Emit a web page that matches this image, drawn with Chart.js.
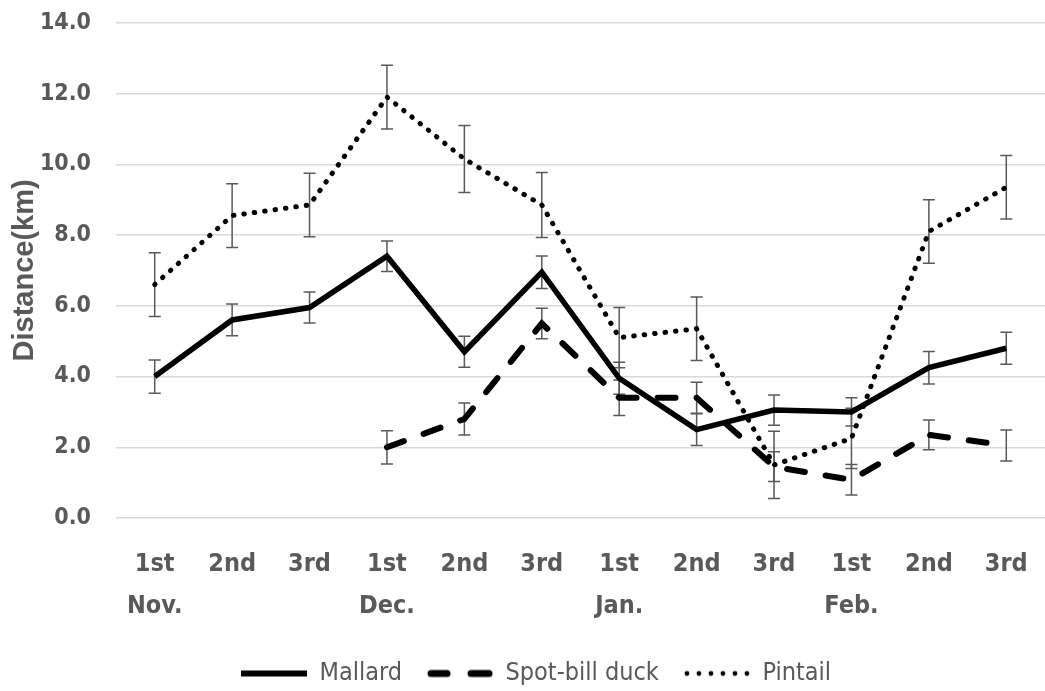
<!DOCTYPE html>
<html>
<head>
<meta charset="utf-8">
<script src="https://cdn.jsdelivr.net/npm/chart.js@4.4.1/dist/chart.umd.min.js"></script>
<style>
  html, body { margin: 0; padding: 0; background: #fff; }
  #wrap { width: 1045px; height: 691px; }
</style>
</head>
<body>
<div id="wrap"><canvas id="chart-line" width="1045" height="691"></canvas></div>
<script>
// periods (ten-day thirds of each month)
var periods = [['1st', 'Nov.'], '2nd', '3rd', ['1st', 'Dec.'], '2nd', '3rd',
               ['1st', 'Jan.'], '2nd', '3rd', ['1st', 'Feb.'], '2nd', '3rd'];

// mean distance (km) and error bar half-length
var mallard     = [4.0, 5.6, 5.95, 7.4, 4.7, 6.95, 3.95, 2.5, 3.05, 3.0, 4.25, 4.8];
var mallardErr  = [0.47, 0.45, 0.44, 0.43, 0.44, 0.46, 0.45, 0.45, 0.43, 0.4, 0.46, 0.45];
var spotbill    = [null, null, null, 2.0, 2.8, 5.5, 3.4, 3.4, 1.45, 1.08, 2.35, 2.05];
var spotbillErr = [null, null, null, 0.47, 0.45, 0.43, 0.5, 0.44, 0.42, 0.43, 0.42, 0.44];
var pintail     = [6.6, 8.55, 8.85, 11.9, 10.15, 8.85, 5.1, 5.35, 1.5, 2.25, 8.1, 9.35];
var pintailErr  = [0.9, 0.9, 0.9, 0.9, 0.95, 0.92, 0.85, 0.9, 0.95, 0.85, 0.9, 0.9];

var yTicks = [0, 2, 4, 6, 8, 10, 12, 14];

var grey = '#595959';
var narrow = "'DejaVu Sans Condensed', 'DejaVu Sans', sans-serif";

// small pictures of each line style for the legend
// (17px blank on the left widens the gap between legend entries)
function sample(kind) {
    var c = document.createElement('canvas');
    c.width = 83; c.height = 12;
    var g = c.getContext('2d');
    g.strokeStyle = '#000';
    g.fillStyle = '#000';
    g.translate(17, 0);
    if (kind == 'solid') {
        g.lineWidth = 6;
        g.beginPath(); g.moveTo(0, 6); g.lineTo(66, 6); g.stroke();
    } else if (kind == 'dash') {
        g.lineWidth = 7;
        g.lineCap = 'round';
        g.beginPath();
        g.moveTo(4, 6); g.lineTo(20, 6);
        g.moveTo(44, 6); g.lineTo(62, 6);
        g.stroke();
    } else {
        for (var i = 0; i < 6; i++) {
            g.beginPath(); g.arc(3 + i * 12, 6, 2.4, 0, Math.PI * 2); g.fill();
        }
    }
    return c;
}
var legendSamples = [sample('solid'), sample('dash'), sample('dot')];

// draws the error bars under the lines, using the y scale
var errorBars = {
    id: 'errorBars',
    beforeDatasetsDraw: function(chart) {
        var ctx = chart.ctx;
        var y = chart.scales.y;
        ctx.save();
        ctx.strokeStyle = grey;
        ctx.lineWidth = 1.5;
        chart.data.datasets.forEach(function(ds, i) {
            var meta = chart.getDatasetMeta(i);
            meta.data.forEach(function(pt, j) {
                var v = ds.data[j], e = ds.errors[j];
                if (v == null || e == null) return;
                var top = y.getPixelForValue(v + e);
                var bot = y.getPixelForValue(v - e);
                ctx.beginPath();
                ctx.moveTo(pt.x, top); ctx.lineTo(pt.x, bot);
                ctx.moveTo(pt.x - 6, top); ctx.lineTo(pt.x + 6, top);
                ctx.moveTo(pt.x - 6, bot); ctx.lineTo(pt.x + 6, bot);
                ctx.stroke();
            });
        });
        ctx.restore();
    }
};

var ctx1 = document.getElementById('chart-line').getContext('2d');

new Chart(ctx1, {
    type: 'line',
    data: {
        labels: periods,
        datasets: [{
            label: 'Mallard',
            data: mallard,
            errors: mallardErr,
            borderColor: '#000',
            backgroundColor: '#000',
            borderWidth: 5.5,
            pointRadius: 0,
            tension: 0
        }, {
            label: 'Spot-bill duck',
            data: spotbill,
            errors: spotbillErr,
            borderColor: '#000',
            backgroundColor: '#000',
            borderWidth: 6,
            borderDash: [18, 21],
            borderCapStyle: 'round',
            pointRadius: 0,
            tension: 0
        }, {
            label: 'Pintail',
            data: pintail,
            errors: pintailErr,
            borderColor: '#000',
            backgroundColor: '#000',
            borderWidth: 5,
            borderDash: [0.5, 10],
            borderCapStyle: 'round',
            pointRadius: 0,
            tension: 0
        }]
    },
    options: {
        responsive: false,
        maintainAspectRatio: false,
        animation: false,
        layout: { padding: { top: 0, right: -6, left: 4, bottom: -5 } },
        plugins: {
            legend: {
                position: 'bottom',
                labels: {
                    usePointStyle: true,
                    pointStyleWidth: 83,
                    color: grey,
                    padding: 8,
                    font: { family: narrow, size: 25 },
                    generateLabels: function(chart) {
                        var items = Chart.defaults.plugins.legend.labels.generateLabels(chart);
                        items.forEach(function(it, i) { it.pointStyle = legendSamples[i]; });
                        return items;
                    }
                }
            },
            tooltip: { enabled: false }
        },
        scales: {
            x: {
                offset: true,
                afterFit: function(scale) { scale.height += 9; },
                grid: { display: false },
                border: { display: false },
                ticks: {
                    color: grey,
                    padding: 17,
                    autoSkip: false,
                    maxRotation: 0,
                    font: { family: narrow, size: 25, weight: 'bold', lineHeight: 1.68 }
                }
            },
            y: {
                min: 0,
                max: 14,
                afterBuildTicks: function(scale) {
                    scale.ticks = yTicks.map(function(v) { return { value: v }; });
                },
                afterFit: function(scale) { scale.width = 112; },
                grid: { color: '#d9d9d9', lineWidth: 1.5, tickLength: 16, tickColor: 'rgba(0,0,0,0)' },
                border: { display: false },
                ticks: {
                    color: grey,
                    padding: 9,
                    font: { family: narrow, size: 23, weight: 'bold' },
                    callback: function(v) { return v.toFixed(1); }
                },
                title: {
                    display: true,
                    text: 'Distance(km)',
                    color: grey,
                    padding: { top: 4, bottom: 0 },
                    font: { family: "'Liberation Sans', Arial, sans-serif", size: 29, weight: 'bold' }
                }
            }
        }
    },
    plugins: [errorBars]
});
</script>
</body>
</html>
